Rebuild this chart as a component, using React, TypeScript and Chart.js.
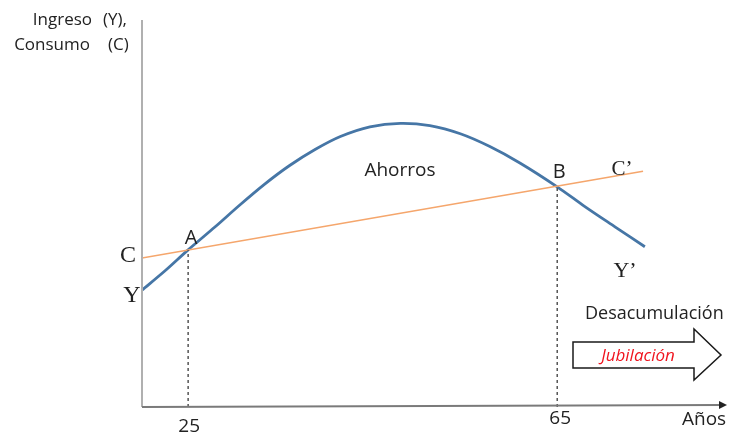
import React, { useEffect, useRef } from "react";
import { Chart, registerables } from "chart.js";

Chart.register(...registerables);

// Income curve Y (age, level)
const incomeAges = [20, 22.5, 25, 27.9, 30.6, 33.3, 36.0, 38.8, 41.5, 44.7, 48.0, 51.2, 54.5, 57.7, 61.0, 65.0, 68.0, 71.3, 74.5];
const incomeLevels = [30.2, 35.2, 40.6, 46.5, 52.2, 57.6, 62.4, 66.6, 69.9, 72.4, 73.3, 72.7, 70.6, 67.3, 63.0, 56.9, 51.8, 46.5, 41.4];

// Consumption line C
const consumptionAges = [20, 74.3];
const consumptionLevels = [38.5, 60.9];

// Points A and B (where Y crosses C)
const crossAges = [25, 65];
const crossLevels = [40.6, 57.0];
const crossNames = ["A", "B"];

const xTickLabels = ["25", "65"];

const BLUE = "#4676a6";
const ORANGE = "#f5a66c";
const SANS = "'Open Sans', 'Noto Sans', sans-serif";
const SERIF = "'Liberation Serif', 'DejaVu Serif', serif";

const overlay = {
  id: "overlay",
  afterDraw(chart: any) {
    const { ctx, chartArea, scales } = chart;
    const xs = scales.x;
    const ys = scales.y;
    const L = chartArea.left;
    const B = chartArea.bottom;
    ctx.save();

    // y axis
    ctx.strokeStyle = "#b0b0b0";
    ctx.lineWidth = 2;
    ctx.beginPath();
    ctx.moveTo(L, chartArea.top);
    ctx.lineTo(L, B);
    ctx.stroke();

    // x axis
    ctx.strokeStyle = "#7a7a7a";
    ctx.lineWidth = 1.8;
    ctx.beginPath();
    ctx.moveTo(L, B);
    ctx.lineTo(chartArea.right - 6, B - 2);
    ctx.stroke();
    ctx.fillStyle = "#222";
    ctx.beginPath();
    ctx.moveTo(chartArea.right, B - 2);
    ctx.lineTo(chartArea.right - 8, B - 6);
    ctx.lineTo(chartArea.right - 8, B + 2);
    ctx.closePath();
    ctx.fill();

    // tick labels
    ctx.fillStyle = "#222";
    ctx.textAlign = "center";
    ctx.textBaseline = "alphabetic";
    ctx.font = `19px ${SANS}`;
    ctx.fillText(xTickLabels[0], xs.getPixelForValue(crossAges[0]) + 1, 432);
    ctx.fillText(xTickLabels[1], xs.getPixelForValue(crossAges[1]) + 3, 424);
    ctx.textAlign = "left";
    ctx.fillText("Años", 682, 425);

    // y-axis title
    ctx.font = `17px ${SANS}`;
    ctx.textAlign = "right";
    ctx.fillText("Ingreso", 92, 25);
    ctx.fillText("Consumo", 90, 50);
    ctx.textAlign = "left";
    ctx.fillText("(Y),", 103, 25);
    ctx.fillText("(C)", 108, 50);

    // A, B labels
    ctx.font = `20px ${SANS}`;
    ctx.textAlign = "center";
    crossAges.forEach((a, i) => {
      const px = xs.getPixelForValue(a);
      const py = ys.getPixelForValue(crossLevels[i]);
      ctx.fillText(crossNames[i], px + (i === 0 ? 3 : 2), py - (i === 0 ? 6 : 8));
    });

    // Serif labels C, Y, C', Y'
    ctx.font = `24px ${SERIF}`;
    ctx.fillText("C", 128, 262);
    ctx.fillText("Y", 132, 302);
    ctx.font = `21px ${SERIF}`;
    ctx.fillText("C\u2019", 622, 175);
    ctx.font = `22px ${SERIF}`;
    ctx.fillText("Y\u2019", 625, 277);

    // Ahorros
    ctx.font = `19px ${SANS}`;
    ctx.fillText("Ahorros", 400, 176);

    // Desacumulación
    ctx.font = `18px ${SANS}`;
    ctx.textAlign = "left";
    ctx.fillText("Desacumulación", 585, 319);

    // Block arrow
    ctx.beginPath();
    ctx.moveTo(573, 342);
    ctx.lineTo(694, 342);
    ctx.lineTo(694, 329);
    ctx.lineTo(721, 355);
    ctx.lineTo(694, 380);
    ctx.lineTo(694, 368);
    ctx.lineTo(573, 368);
    ctx.closePath();
    ctx.fillStyle = "#ffffff";
    ctx.fill();
    ctx.strokeStyle = "#1a1a1a";
    ctx.lineWidth = 1.5;
    ctx.stroke();

    ctx.fillStyle = "#f0141e";
    ctx.font = `italic 17px ${SANS}`;
    ctx.textAlign = "center";
    ctx.fillText("Jubilación", 638, 361);

    ctx.restore();
  },
};

export default function App() {
  const ref = useRef<HTMLCanvasElement>(null);
  useEffect(() => {
    if (!ref.current) return;
    const incomeData = incomeAges.map((a, i) => ({ x: a, y: incomeLevels[i] }));
    const consData = consumptionAges.map((a, i) => ({ x: a, y: consumptionLevels[i] }));
    const dropSets = crossAges.map((a, i) => ({
      data: [
        { x: a, y: 0 },
        { x: a, y: crossLevels[i] },
      ],
      borderColor: "#555555",
      borderWidth: 1.5,
      borderDash: [3, 3],
      pointRadius: 0,
      fill: false,
    }));
    const chart = new Chart(ref.current, {
      type: "line",
      data: {
        datasets: [
          ...dropSets,
          {
            data: consData,
            borderColor: ORANGE,
            borderWidth: 1.6,
            pointRadius: 0,
            fill: false,
          },
          {
            data: incomeData,
            borderColor: BLUE,
            borderWidth: 2.8,
            pointRadius: 0,
            fill: false,
            tension: 0.3,
          },
        ] as any,
      },
      options: {
        animation: false,
        responsive: true,
        maintainAspectRatio: false,
        layout: { padding: { left: 142, right: 2, top: 20, bottom: 30 } },
        plugins: { legend: { display: false }, tooltip: { enabled: false } },
        scales: {
          x: { type: "linear", min: 20, max: 83.4, display: false },
          y: { type: "linear", min: 0, max: 100, display: false },
        },
      },
      plugins: [overlay],
    });
    return () => chart.destroy();
  }, []);
  return (
    <div style={{ position: "fixed", left: 0, top: 0, width: 729, height: 437, background: "#fff" }}>
      <canvas ref={ref} />
    </div>
  );
}
